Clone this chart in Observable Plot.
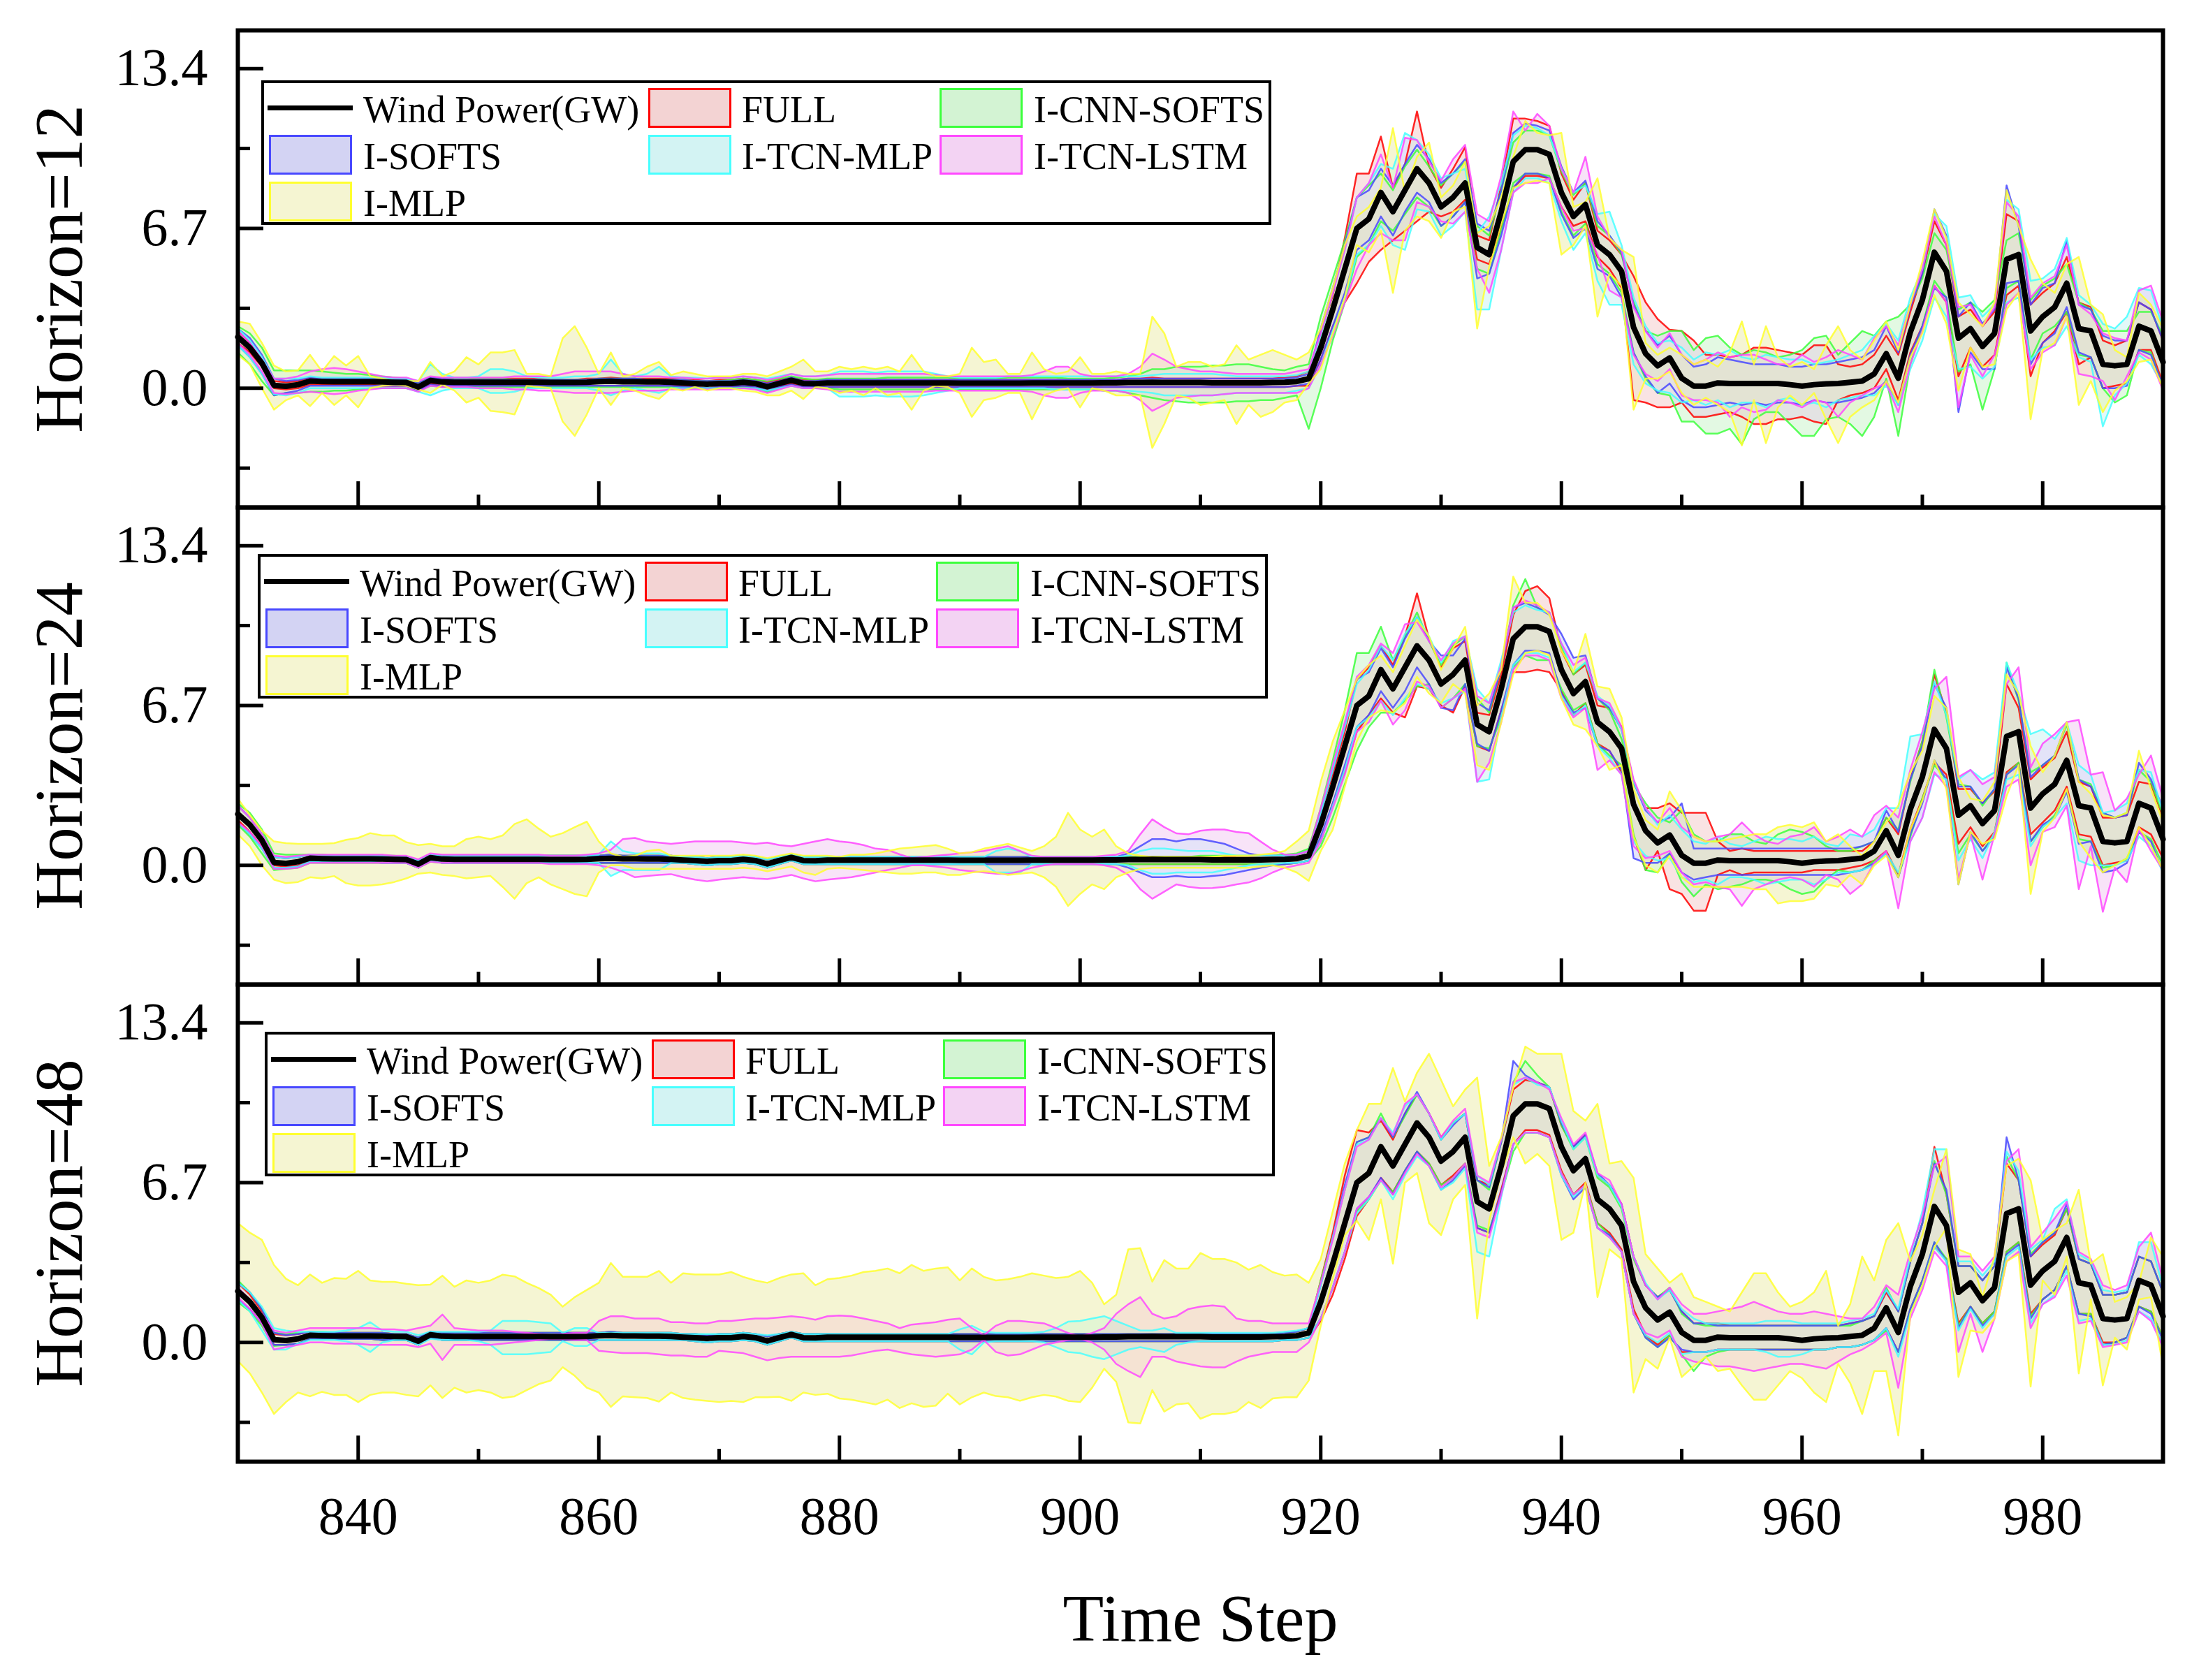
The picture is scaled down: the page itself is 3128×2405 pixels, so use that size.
<!DOCTYPE html>
<html><head><meta charset="utf-8">
<script src="https://cdn.jsdelivr.net/npm/d3@7"></script>
<script src="https://cdn.jsdelivr.net/npm/@observablehq/plot@0.6"></script>
<style>
html,body{margin:0;padding:0;background:#fff;}
#wrap{position:relative;width:3128px;height:2405px;overflow:hidden;font-family:"Liberation Serif","Times New Roman",serif;background:#fff;}
#wrap svg{position:absolute;left:0;overflow:visible;}
#wrap svg g[aria-label="area"]{mix-blend-mode:darken;}
.legend{position:absolute;border:4px solid #000;background:#fff;box-sizing:border-box;width:1446px;height:207px;z-index:5;}
.sw{position:absolute;box-sizing:border-box;width:119px;height:57px;border:3px solid;}
.ln{position:absolute;width:122px;height:7px;background:#000;}
.lt{position:absolute;font-size:54px;line-height:54px;color:#000;white-space:nowrap;}
</style></head>
<body><div id="wrap"></div>
<script>
// ---------- categories / ticks ----------
const STEP_FIRST = 830, STEP_LAST = 990;
const xMajor = [840, 860, 880, 900, 920, 940, 960, 980];
const xMinor = [850, 870, 890, 910, 930, 950, 970, 990];
const yMajor = [0, 6.7, 13.4];
const yMinor = [-3.35, 3.35, 10.05];
const horizons = ["12", "24", "48"];
const modelNames = ["FULL", "I-CNN-SOFTS", "I-SOFTS", "I-TCN-MLP", "I-TCN-LSTM", "I-MLP"];

// ---------- actual wind power (GW), steps 830..990 ----------
const actual = [
2.15,1.7,1.05,0.12,0.08,0.15,0.3,0.28,0.27,0.27,
0.27,0.27,0.26,0.25,0.24,0.05,0.32,0.26,0.25,0.25,
0.25,0.25,0.25,0.25,0.25,0.25,0.24,0.24,0.24,0.25,
0.28,0.29,0.27,0.27,0.26,0.26,0.25,0.22,0.2,0.17,
0.2,0.2,0.25,0.2,0.06,0.2,0.33,0.2,0.19,0.22,
0.22,0.22,0.22,0.22,0.22,0.22,0.22,0.22,0.22,0.22,
0.21,0.21,0.21,0.21,0.21,0.21,0.22,0.22,0.22,0.22,
0.22,0.22,0.23,0.23,0.24,0.24,0.25,0.24,0.24,0.24,
0.24,0.23,0.23,0.23,0.23,0.23,0.24,0.25,0.28,0.4,
1.7,3.3,5.0,6.7,7.1,8.2,7.4,8.3,9.2,8.6,
7.6,8.0,8.6,5.9,5.6,7.4,9.5,10.0,10.0,9.8,
8.2,7.2,7.7,6.0,5.6,4.9,2.55,1.45,0.94,1.27,
0.42,0.09,0.09,0.22,0.2,0.2,0.2,0.2,0.2,0.15,
0.09,0.15,0.18,0.2,0.25,0.3,0.6,1.45,0.42,2.35,
3.7,5.7,4.9,2.1,2.5,1.75,2.3,5.4,5.6,2.4,
3.0,3.4,4.4,2.5,2.4,1.0,0.94,1.0,2.6,2.4,
1.1];

// ================= Horizon = 12 =================
const h12_FULL_hi = [
2.4,1.9,1.2,.3,.25,.3,.45,.4,.4,.4,
.4,.4,.4,.35,.35,.2,.45,.4,.4,.4,
.4,.4,.4,.4,.4,.4,.35,.35,.35,.4,
.4,.45,.4,.4,.4,.4,.4,.35,.35,.3,
.35,.35,.4,.35,.25,.35,.45,.35,.35,.35,
.35,.35,.35,.35,.35,.35,.35,.35,.35,.35,
.35,.35,.35,.35,.35,.35,.35,.35,.35,.35,
.35,.35,.35,.35,.4,.4,.45,.4,.4,.4,
.4,.4,.4,.4,.4,.4,.4,.45,.5,.7,
2.3,3.9,6.3,9.0,9.0,10.55,8.4,9.4,11.6,9.3,
8.4,9.2,10.1,6.4,6.2,8.5,11.3,11.3,11.2,11.0,
9.0,7.9,8.6,6.6,6.2,5.6,4.7,3.6,2.9,2.45,
2.4,2.0,1.4,1.4,1.3,1.4,1.7,1.7,1.6,1.5,
1.4,1.8,1.8,1.0,.9,1.0,1.4,2.2,1.4,3.2,
4.8,7.0,6.0,3.0,3.3,2.6,3.2,7.3,7.0,3.5,
4.0,4.4,5.5,3.6,3.4,2.0,1.8,2.0,3.6,3.3,
2.0];
const h12_FULL_lo = [
1.9,1.5,.9,.0,-.05,.0,.15,.15,.15,.15,
.15,.15,.1,.1,.1,-.1,.2,.1,.1,.1,
.1,.1,.1,.1,.1,.1,.1,.1,.1,.1,
.1,.1,.1,.1,.1,.1,.1,.1,.05,.0,
.05,.05,.1,.05,-.1,.05,.2,.05,.05,.05,
.05,.05,.05,.05,.05,.05,.05,.05,.05,.05,
.05,.05,.05,.05,.05,.05,.05,.05,.05,.05,
.05,.05,.05,.05,.05,.05,.05,.05,.05,.05,
.05,.05,.05,.05,.05,.05,.05,.05,.1,.1,
1.2,2.6,3.6,4.4,5.3,5.8,6.2,6.6,7.0,7.4,
7.2,7.4,7.9,5.4,5.2,6.8,8.4,8.9,8.9,8.8,
7.6,6.8,7.0,5.5,5.0,4.2,-.5,-.6,-.8,-.8,
-.6,-1.2,-1.2,-1.1,-1.0,-1.2,-1.5,-1.5,-1.3,-1.3,
-1.2,-1.4,-1.5,-.5,-.3,-.2,.0,.8,-.5,1.5,
2.6,4.3,3.6,.5,1.7,.9,1.4,3.9,4.3,.5,
1.9,2.4,3.2,1.0,1.3,.0,.1,.2,1.6,1.6,
.2];
const h12_CNN_hi = [
2.6,2.3,1.7,.75,.75,.75,.75,.7,.65,.6,
.6,.55,.5,.45,.4,.2,.45,.4,.4,.4,
.4,.4,.4,.35,.35,.35,.35,.35,.35,.35,
.4,.4,.4,.4,.35,.35,.35,.35,.3,.3,
.3,.35,.4,.35,.3,.4,.5,.4,.35,.4,
.4,.4,.4,.4,.45,.45,.45,.45,.45,.45,
.4,.4,.4,.4,.45,.45,.45,.45,.45,.4,
.4,.4,.4,.45,.5,.6,.8,.8,.9,.9,
.9,.95,.95,1.0,1.0,.9,.8,.75,.9,1.0,
3.0,4.6,6.2,8.0,8.5,9.0,8.3,9.3,10.0,9.3,
8.5,9.0,9.5,6.8,6.4,8.3,10.3,10.8,10.8,10.6,
9.1,8.1,8.6,6.8,6.4,5.6,3.6,2.4,2.2,2.4,
2.4,1.6,2.1,2.2,1.7,1.4,1.6,1.5,1.3,1.4,
1.6,2.1,2.2,1.4,1.9,2.4,2.2,2.8,3.0,3.5,
4.6,6.5,5.8,3.3,3.6,3.2,3.7,6.2,6.5,3.7,
4.3,4.6,5.2,3.6,3.3,2.4,2.4,2.4,3.2,3.2,
2.2];
const h12_CNN_lo = [
1.5,1.0,.3,-.3,-.2,-.2,-.15,-.15,-.1,-.1,
-.05,.0,.0,.0,.0,-.1,.1,.05,.05,.05,
.05,.05,.05,.05,.05,.05,.05,.05,.05,.05,
.05,.05,.05,.05,.05,.05,.05,.05,.0,.0,
.0,.0,.05,.0,-.15,.0,.1,.0,.0,.0,
-.05,-.05,-.05,-.05,-.05,-.05,-.05,-.05,-.05,-.05,
-.05,-.05,-.05,-.05,-.05,-.05,-.05,-.05,-.05,-.05,
-.05,-.05,-.1,-.1,-.2,-.3,-.4,-.5,-.55,-.6,
-.6,-.6,-.6,-.55,-.55,-.5,-.5,-.4,-.3,-1.7,
.0,2.0,3.6,5.5,6.0,7.0,6.6,7.3,8.0,7.6,
6.8,7.2,7.8,5.0,4.8,6.6,8.6,9.0,9.0,8.9,
7.4,6.4,6.9,5.2,4.8,4.0,1.5,.4,-.2,-.3,
-1.4,-1.4,-1.9,-1.9,-1.7,-2.35,-1.3,-1.0,-1.0,-1.5,
-2.0,-2.0,-1.3,-1.2,-1.5,-2.0,-1.2,.4,-2.0,1.0,
2.6,4.5,3.8,.7,1.0,-.9,.8,4.2,4.5,1.2,
2.3,2.6,3.2,1.4,1.3,.0,-.6,-.3,1.6,1.5,
.0];
const h12_SOFTS_hi = [
2.5,2.1,1.4,.4,.3,.35,.45,.4,.4,.4,
.4,.4,.4,.35,.35,.2,.45,.4,.35,.35,
.35,.35,.35,.35,.35,.35,.35,.35,.35,.35,
.4,.4,.4,.4,.35,.35,.35,.35,.3,.3,
.3,.3,.35,.3,.2,.3,.45,.3,.3,.35,
.35,.35,.35,.35,.35,.35,.35,.35,.35,.35,
.35,.35,.35,.35,.35,.35,.35,.35,.35,.35,
.35,.35,.35,.35,.4,.4,.4,.4,.4,.4,
.4,.4,.4,.4,.4,.4,.4,.4,.45,.6,
2.5,4.2,6.0,8.0,8.3,9.2,8.5,9.4,10.2,9.6,
8.6,9.0,9.6,6.9,6.6,8.3,10.7,11.1,11.0,10.8,
9.3,8.2,8.7,7.0,6.4,5.7,3.5,2.4,1.8,2.2,
1.4,.9,1.0,1.3,1.2,1.1,1.0,1.0,1.0,.9,
.9,1.0,1.0,1.1,1.2,1.3,1.6,2.6,1.5,3.4,
4.8,7.5,6.4,3.0,3.6,2.7,3.3,8.5,6.8,3.5,
4.2,4.4,6.2,3.5,3.3,2.2,2.0,2.0,3.6,3.3,
2.0];
const h12_SOFTS_lo = [
1.8,1.3,.6,-.3,-.2,-.1,.1,.1,.1,.1,
.1,.1,.1,.1,.1,-.1,.15,.1,.1,.1,
.1,.1,.1,.1,.1,.1,.1,.1,.1,.1,
.1,.1,.1,.1,.1,.1,.1,.05,.05,.0,
.05,.05,.1,.05,-.1,.05,.15,.05,.05,.05,
.05,.05,.05,.05,.05,.05,.05,.05,.05,.05,
.05,.05,.05,.05,.05,.05,.05,.05,.05,.05,
.05,.05,.05,.05,.05,.05,.05,.05,.05,.05,
.05,.05,.05,.05,.05,.05,.05,.05,.1,.2,
1.2,2.6,4.0,5.8,6.2,7.2,6.4,7.4,8.2,7.8,
6.8,7.2,7.8,4.6,4.8,6.4,8.4,9.0,9.0,8.8,
7.3,6.3,6.7,5.0,4.7,3.8,1.5,.5,-.2,.2,
-.5,-.8,-.8,-.7,-.6,-.7,-.6,-.7,-.6,-.6,
-.7,-.5,-.6,-.6,-.5,-.4,-.2,.3,-.7,1.4,
2.6,4.2,3.8,-1.0,1.5,.8,.8,4.4,4.5,1.0,
1.9,2.3,3.4,1.5,1.3,.0,.0,.1,1.6,1.4,
.1];
const h12_TCNMLP_hi = [
2.5,2.0,1.3,.4,.4,.4,.5,.45,.45,.45,
.45,.45,.45,.4,.4,.3,1.0,.6,.45,.45,
.5,.8,.8,.7,.5,.45,.45,.45,.5,.5,
.6,1.2,.6,.5,.6,.9,.5,.45,.45,.4,
.45,.45,.5,.45,.4,.5,.6,.5,.5,.55,
.7,.7,.7,.65,.7,.7,.7,.7,.6,.5,
.45,.45,.45,.45,.5,.5,.5,.5,.5,.5,
.5,.5,.5,.5,.5,.5,.55,.6,.6,.6,
.6,.6,.55,.5,.5,.5,.5,.5,.55,.7,
2.2,4.0,5.8,8.0,8.6,9.4,9.2,10.7,10.4,9.8,
8.8,9.0,9.2,6.5,7.2,8.6,10.6,11.0,10.9,10.6,
9.2,8.2,8.5,7.3,7.4,6.0,3.8,2.6,1.9,2.0,
1.7,1.2,1.5,1.4,1.6,1.3,1.2,1.4,1.3,1.2,
1.2,1.0,1.1,1.2,1.4,1.6,2.2,2.7,2.0,3.8,
5.0,7.3,6.8,3.8,3.9,3.0,3.5,7.9,7.5,4.5,
4.6,5.0,6.3,3.9,3.5,2.7,2.5,3.0,4.2,4.1,
2.5];
const h12_TCNMLP_lo = [
1.8,1.3,.6,-.25,-.3,-.2,.0,.0,.0,.0,
.0,.0,.0,.0,.0,-.15,-.3,-.1,.0,.0,
.0,-.2,-.2,-.15,.0,.0,.0,.0,.0,.0,
-.1,-.3,-.1,.0,-.1,-.2,.0,.0,.0,.0,
.0,.0,.0,.0,-.1,.0,.1,.0,.0,.0,
-.35,-.35,-.35,-.3,-.35,-.35,-.35,-.3,-.2,-.1,
.0,.0,.0,.0,.0,.0,.0,.0,-.05,-.05,
-.05,-.05,-.1,-.1,-.1,-.15,-.2,-.3,-.3,-.3,
-.3,-.3,-.25,-.2,-.2,-.2,-.2,-.2,-.1,.0,
1.0,2.4,3.8,5.6,6.0,6.8,6.0,5.8,7.5,7.4,
6.4,6.8,7.4,3.3,3.3,5.8,8.2,8.8,8.8,8.6,
7.0,5.8,6.5,4.5,3.5,3.5,1.0,.2,-.1,-.2,
-.6,-.5,-.7,-.5,-.8,-.6,-.6,-.8,-.5,-.4,
-.7,-.6,-.8,-.5,-.4,-.3,-.3,.1,-.7,.8,
2.0,3.8,3.0,.8,.9,.4,.9,3.6,3.8,1.2,
1.7,1.8,2.6,1.3,1.1,-1.6,-.3,.2,1.4,1.0,
.1];
const h12_LSTM_hi = [
2.4,1.9,1.2,.4,.4,.5,.7,.8,.85,.8,
.7,.6,.5,.45,.45,.3,.5,.45,.45,.45,
.45,.45,.45,.5,.5,.5,.5,.6,.7,.7,
.7,.7,.6,.5,.5,.5,.45,.45,.4,.4,
.45,.45,.5,.45,.35,.45,.6,.5,.5,.55,
.6,.6,.6,.6,.6,.6,.6,.6,.55,.5,
.5,.5,.5,.5,.5,.5,.55,.7,.9,.9,
.6,.5,.5,.5,.6,.9,1.45,1.2,.9,.8,
.7,.7,.65,.6,.6,.6,.6,.6,.7,.8,
2.3,4.0,5.8,8.0,8.6,9.8,8.4,10.5,10.4,9.5,
8.7,9.6,10.2,7.3,7.0,8.9,11.6,10.8,11.5,11.0,
9.2,8.2,9.7,7.2,6.3,5.8,3.4,2.4,1.7,2.3,
1.4,1.0,1.2,1.5,1.3,1.4,1.4,1.2,1.0,1.0,
1.4,1.1,1.3,1.6,1.4,1.2,2.1,2.6,1.8,3.5,
5.0,7.2,6.0,3.4,3.5,2.6,3.4,7.8,7.2,3.8,
4.4,4.7,6.0,3.5,3.1,2.3,2.1,2.0,4.1,4.3,
2.8];
const h12_LSTM_lo = [
1.9,1.4,.7,-.2,-.25,-.2,-.15,-.2,-.25,-.2,
-.1,-.05,.0,.0,.0,-.15,.1,.05,.05,.05,
.0,.0,.0,-.05,-.05,-.1,-.1,-.15,-.2,-.2,
-.2,-.2,-.15,-.1,-.1,-.1,-.05,-.05,-.05,-.05,
-.05,-.05,.0,-.05,-.2,-.05,.1,.0,.0,-.05,
-.15,-.15,-.15,-.15,-.15,-.15,-.15,-.15,-.1,-.1,
-.1,-.1,-.1,-.1,-.1,-.1,-.15,-.3,-.4,-.4,
-.2,-.1,-.1,-.1,-.2,-.5,-.95,-.7,-.4,-.35,
-.3,-.3,-.25,-.2,-.2,-.2,-.2,-.2,-.2,.0,
1.0,2.2,3.6,5.0,6.0,6.5,6.2,6.2,7.8,7.6,
7.0,6.9,7.4,5.0,4.0,5.8,8.2,8.6,8.6,8.8,
7.6,6.6,6.7,5.6,4.1,3.8,1.4,.6,.3,.8,
-.3,-.5,-.5,-.6,-1.2,-.8,-1.0,-.9,-.5,-.6,
-.8,-.5,-.6,-1.2,-.6,-.3,.0,.2,-1.0,1.0,
2.4,4.3,3.6,-.8,1.4,.5,1.4,3.5,4.0,.8,
1.5,1.8,3.0,.6,.5,.3,-.5,.5,1.5,1.2,
-.1];
const h12_MLP_hi = [
2.8,2.7,1.9,.95,.7,.75,1.4,.7,1.35,.95,
1.35,.5,.4,.3,.3,.3,1.1,.5,.7,1.3,
1.0,1.5,1.5,1.6,.6,.6,.5,2.1,2.6,1.7,
.6,1.5,.5,.6,.9,1.1,.55,.7,.6,.5,
.5,.5,.6,.6,.5,.7,.9,1.2,.7,.7,
.9,.8,.9,.8,.9,.7,1.4,.7,.5,.5,
.6,1.7,1.1,1.2,.6,.6,1.5,.8,.6,.7,
1.3,.6,.6,.7,.6,.6,3.0,2.3,.9,1.1,
1.1,.9,1.0,1.8,1.2,1.4,1.6,1.4,1.2,1.5,
2.5,4.2,6.0,7.2,7.6,8.4,10.9,8.2,9.7,10.3,
8.0,8.5,9.5,6.5,6.8,8.0,9.7,11.2,10.7,10.6,
10.7,7.6,7.8,8.8,6.3,5.8,5.5,1.9,1.4,1.7,
1.4,1.0,1.2,.9,1.5,2.8,1.0,2.6,1.3,.9,
1.1,.8,1.8,2.6,1.6,1.2,2.0,2.8,1.6,3.5,
5.3,7.5,6.3,3.6,3.1,2.6,3.6,8.3,6.8,5.4,
4.4,4.0,5.2,5.5,3.5,3.1,1.6,1.3,4.0,3.5,
2.5];
const h12_MLP_lo = [
1.4,1.0,.0,-.9,-.5,-.3,-.75,-.2,-.7,-.3,
-.8,.0,.1,.15,.1,-.05,-.2,.15,-.1,-.6,
-.4,-.95,-1.0,-1.1,.1,.05,.0,-1.4,-2.0,-1.1,
.0,-.7,.0,-.1,-.3,-.45,.0,-.1,.05,-.1,
.0,.0,-.1,-.15,-.3,-.3,-.1,-.45,.05,.0,
-.2,-.1,-.3,.0,-.3,-.2,-.9,-.1,.1,.05,
-.2,-1.2,-.5,-.4,-.2,-.2,-1.3,-.3,-.1,.0,
-.8,.0,-.1,-.3,-.3,-.3,-2.5,-1.5,-.3,-.4,
-.7,-.6,-.5,-1.5,-.7,-1.2,-1.0,-.6,-.5,.2,
.8,2.3,3.8,6.0,5.7,6.6,4.0,6.6,7.2,7.0,
6.3,7.4,7.6,2.5,5.1,6.9,8.4,8.6,8.7,8.6,
5.6,6.0,6.8,3.0,4.8,4.3,-.9,.4,.4,.7,
-.2,-.7,-.4,-.7,-1.0,-2.4,-.5,-2.3,-.8,-.3,
-.7,-.2,-1.3,-2.3,-1.2,-.8,-.5,.3,-.6,1.3,
2.3,3.9,2.7,-.1,1.7,.9,1.0,3.3,4.0,-1.3,
1.6,1.9,3.0,-.7,.3,-1.0,-.1,.3,1.1,1.2,
.0];

// ================= Horizon = 24 =================
const h24_FULL_hi = [
2.5,2.0,1.3,.35,.3,.35,.45,.4,.4,.4,
.4,.4,.4,.35,.35,.2,.45,.4,.4,.4,
.4,.4,.4,.4,.4,.4,.4,.4,.4,.4,
.4,.45,.4,.4,.4,.4,.4,.35,.35,.3,
.35,.35,.4,.35,.25,.35,.45,.35,.35,.35,
.35,.35,.35,.35,.35,.35,.35,.35,.35,.35,
.35,.35,.35,.35,.35,.35,.35,.35,.35,.35,
.35,.35,.35,.35,.35,.35,.35,.35,.35,.35,
.35,.35,.35,.35,.35,.35,.35,.4,.45,.6,
2.3,3.8,5.6,7.8,8.3,9.2,8.4,9.6,11.4,9.5,
8.3,9.1,9.4,6.4,6.3,8.0,10.5,11.5,11.7,11.2,
9.0,8.0,8.4,6.7,6.6,5.8,3.5,2.4,2.4,2.6,
2.2,2.2,2.2,1.0,.6,.7,.6,.6,.6,.6,
.6,.6,.6,.6,.6,.6,1.0,2.0,1.3,3.6,
5.2,8.0,6.4,3.2,3.2,2.6,3.1,7.6,6.6,3.6,
4.1,4.5,5.6,3.5,3.3,2.0,2.0,2.1,3.5,3.4,
2.0];
const h24_FULL_lo = [
1.9,1.4,.8,.0,-.05,.0,.15,.15,.15,.15,
.15,.15,.1,.1,.1,-.1,.2,.1,.1,.1,
.1,.1,.1,.1,.1,.1,.1,.1,.1,.1,
.1,.1,.1,.1,.1,.1,.1,.1,.05,.0,
.05,.05,.1,.05,-.1,.05,.2,.05,.05,.05,
.05,.05,.05,.05,.05,.05,.05,.05,.05,.05,
.05,.05,.05,.05,.05,.05,.05,.05,.05,.05,
.05,.05,.05,.05,.05,.05,.05,.05,.05,.05,
.05,.05,.05,.05,.05,.05,.05,.05,.1,.2,
1.0,2.6,3.9,5.6,6.3,7.0,6.4,6.2,7.5,7.4,
6.7,6.4,7.5,5.0,4.8,6.5,8.1,8.1,8.2,8.1,
7.3,6.3,6.8,5.1,4.8,3.9,1.2,-.2,.6,-1.0,
-1.2,-1.9,-1.9,-.4,-.2,-.4,-.3,-.3,-.3,-.3,
-.3,-.2,-.2,-.2,-.1,.0,.2,.6,-.4,1.5,
2.8,4.3,3.8,.9,1.6,.8,1.4,3.9,4.3,1.3,
1.8,2.3,3.3,1.3,1.2,.0,.1,.2,1.6,1.3,
.3];
const h24_CNN_hi = [
2.6,2.2,1.5,.5,.45,.45,.45,.45,.4,.4,
.4,.4,.4,.4,.35,.2,.45,.4,.4,.4,
.4,.4,.4,.4,.4,.4,.4,.4,.4,.4,
.4,.45,.4,.4,.4,.4,.4,.35,.35,.3,
.35,.35,.4,.35,.25,.35,.45,.35,.35,.35,
.35,.35,.35,.35,.35,.35,.35,.35,.35,.35,
.35,.35,.35,.35,.35,.35,.35,.35,.35,.35,
.35,.35,.35,.35,.35,.35,.35,.35,.35,.35,
.4,.4,.4,.4,.4,.4,.4,.45,.5,.7,
2.4,4.4,6.5,8.9,8.9,10.0,8.6,9.6,10.6,9.4,
8.4,9.2,9.6,7.0,6.4,8.3,10.9,12.0,10.8,10.6,
9.2,8.0,8.5,7.0,6.5,5.3,3.4,2.6,2.0,1.8,
2.3,1.3,1.0,1.0,1.3,1.3,1.0,.9,1.3,1.5,
1.4,1.2,.8,.6,.6,.8,1.0,2.0,1.5,3.5,
5.2,8.2,6.2,3.4,3.3,2.5,3.2,8.5,6.9,3.9,
4.2,4.6,5.9,3.6,3.4,2.2,2.0,2.2,4.0,3.5,
2.1];
const h24_CNN_lo = [
1.7,1.2,.5,-.2,-.15,-.1,.1,.1,.1,.1,
.1,.1,.1,.1,.1,-.1,.15,.1,.1,.1,
.1,.1,.1,.1,.1,.1,.1,.1,.1,.1,
.1,.1,.1,.1,.1,.1,.1,.1,.05,.0,
.05,.05,.1,.05,-.1,.05,.2,.05,.05,.05,
.05,.05,.05,.05,.05,.05,.05,.05,.05,.05,
.05,.05,.05,.05,.05,.05,.05,.05,.05,.05,
.05,.05,.05,.05,.05,.05,.05,.05,.05,.05,
.05,.05,.05,.05,.05,.05,.05,.05,.1,.2,
.8,2.0,3.4,4.8,5.8,6.4,6.4,6.9,7.5,7.6,
6.6,7.0,7.6,5.0,4.9,6.2,8.3,8.8,8.6,8.6,
7.4,6.5,6.8,5.1,4.6,4.2,1.3,-.2,-.3,.5,
-.7,-1.3,-.8,-1.0,-.9,-.8,-.6,-.6,-.7,-1.0,
-1.2,-1.1,-.6,-.2,-.3,-.2,.2,.5,-.5,1.2,
2.8,4.2,3.6,.5,1.3,.6,1.3,3.8,4.3,1.0,
1.6,2.1,3.1,1.1,1.0,-.1,.0,.3,1.4,1.1,
.0];
const h24_SOFTS_hi = [
2.5,2.0,1.3,.35,.3,.35,.45,.4,.4,.4,
.4,.4,.4,.35,.35,.2,.45,.4,.4,.4,
.4,.4,.4,.4,.4,.4,.4,.4,.4,.4,
.4,.45,.4,.4,.4,.4,.4,.35,.35,.3,
.35,.35,.4,.35,.25,.35,.45,.35,.35,.35,
.35,.35,.35,.35,.35,.35,.35,.35,.35,.35,
.35,.35,.35,.35,.35,.35,.35,.35,.35,.35,
.35,.35,.35,.35,.5,.8,1.1,1.1,1.0,1.1,
1.1,1.0,.9,.7,.5,.4,.4,.4,.45,.6,
2.2,4.0,5.8,7.8,8.1,9.1,8.3,9.5,10.4,9.4,
8.8,8.8,9.5,6.8,6.5,8.3,10.8,11.0,10.8,10.5,
9.7,8.7,8.8,7.0,6.6,5.7,3.5,2.3,1.8,2.0,
2.6,.7,.7,.7,.7,.7,.7,.7,.7,.7,
.7,.7,.7,.7,.7,.8,1.0,2.3,1.4,3.6,
5.0,7.6,6.6,3.3,3.3,2.6,3.2,8.3,7.0,3.7,
4.2,4.6,6.0,3.6,3.3,2.2,2.0,2.1,4.3,3.6,
2.4];
const h24_SOFTS_lo = [
1.8,1.3,.7,-.1,-.1,-.05,.15,.15,.15,.15,
.15,.15,.1,.1,.1,-.1,.2,.1,.1,.1,
.1,.1,.1,.1,.1,.1,.1,.1,.1,.1,
.1,.1,.1,.1,.1,.1,.1,.1,.05,.0,
.05,.05,.1,.05,-.1,.05,.2,.05,.05,.05,
.05,.05,.05,.05,.05,.05,.05,.05,.05,.05,
.05,.05,.05,.05,.05,.05,.05,.05,.05,.05,
.05,.05,.05,.05,-.1,-.3,-.5,-.5,-.45,-.5,
-.5,-.45,-.4,-.3,-.2,-.1,.0,.05,.1,.2,
1.2,2.6,4.2,5.8,6.3,7.3,6.6,7.3,8.3,7.6,
6.6,6.5,7.6,5.1,4.8,6.5,8.4,9.0,9.0,8.9,
7.2,6.4,6.6,5.0,4.8,4.0,.3,.1,.1,.5,
-.3,-.6,-.5,-.4,-.4,-.4,-.4,-.4,-.4,-.4,
-.4,-.4,-.4,-.4,-.3,-.2,.1,.5,-.5,1.3,
2.6,4.4,3.6,-.8,1.4,.6,1.2,3.8,4.2,1.0,
1.7,2.0,3.1,.9,1.0,-.3,-.2,.1,1.4,1.0,
-.3];
const h24_TCNMLP_hi = [
2.5,2.0,1.3,.35,.3,.35,.45,.4,.4,.4,
.4,.4,.4,.35,.35,.2,.45,.4,.4,.4,
.4,.4,.4,.4,.4,.4,.4,.4,.4,.4,
.45,1.0,.6,.5,.5,.5,.4,.35,.35,.3,
.35,.35,.4,.35,.25,.35,.45,.35,.35,.35,
.35,.35,.35,.35,.35,.35,.35,.35,.35,.35,
.35,.35,.35,.6,.7,.6,.35,.35,.35,.35,
.35,.35,.35,.35,.4,.6,.7,.7,.65,.6,
.6,.6,.5,.4,.4,.4,.4,.4,.45,.6,
2.2,4.0,5.8,7.6,8.2,9.2,8.6,9.7,10.4,9.6,
8.5,9.4,9.6,7.4,6.8,8.6,10.6,10.9,10.7,10.6,
9.3,8.1,8.5,7.1,6.7,5.7,3.5,2.4,1.7,2.1,
1.5,1.0,.9,1.2,.9,.8,1.0,1.2,1.1,1.1,
1.0,1.2,.9,.8,1.3,1.2,1.5,2.4,2.4,5.4,
5.5,7.7,6.3,3.6,4.0,3.6,3.9,8.5,7.2,5.5,
5.7,5.3,6.0,4.2,3.8,2.2,2.3,2.6,4.0,3.9,
2.2];
const h24_TCNMLP_lo = [
1.8,1.3,.7,-.1,-.1,-.05,.15,.15,.15,.15,
.15,.15,.1,.1,.1,-.1,.2,.1,.1,.1,
.1,.1,.1,.1,.1,.1,.1,.1,.1,.1,
.1,-.45,-.2,-.2,-.2,-.2,.1,.1,.05,.0,
.05,.05,.1,.05,-.1,.05,.2,.05,.05,.05,
.05,.05,.05,.05,.05,.05,.05,.05,.05,.05,
.05,.05,.05,-.3,-.3,-.3,.05,.05,.05,.05,
.05,.05,.05,.05,.0,-.2,-.35,-.35,-.3,-.3,
-.3,-.3,-.2,-.1,.0,.05,.05,.1,.1,.2,
1.0,2.5,4.0,5.8,6.2,6.9,6.3,7.0,7.6,7.4,
6.8,7.0,7.3,3.5,3.6,6.2,8.4,8.9,8.9,8.7,
7.1,6.3,6.7,5.0,4.5,3.8,1.0,.4,.2,.3,
-.5,-.7,-.6,-.8,-.5,-.5,-.6,-.8,-.7,-.6,
-.6,-.8,-.6,-.3,-.3,-.2,.0,.5,-.3,1.0,
2.0,3.8,3.6,.2,1.1,.3,1.4,3.6,3.8,.8,
1.6,2.0,2.6,.2,.0,.0,.0,.2,1.2,.8,
-.3];
const h24_LSTM_hi = [
2.5,2.0,1.3,.4,.35,.4,.45,.45,.45,.45,
.45,.45,.45,.4,.4,.25,.5,.45,.45,.45,
.45,.45,.45,.45,.45,.45,.4,.4,.4,.45,
.5,.65,1.1,1.15,1.0,.95,.9,.95,1.0,1.0,
1.0,1.0,.95,.9,.95,.85,.8,.9,1.0,1.1,
1.0,.95,.85,.7,.65,.46,.3,.35,.4,.45,
.5,.55,.6,.7,.8,.6,.4,.35,.35,.35,
.35,.35,.4,.45,.6,1.3,1.93,1.6,1.34,1.3,
1.45,1.5,1.5,1.4,1.35,1.0,.66,.45,.45,.6,
2.4,4.2,6.0,7.9,8.4,9.3,8.9,10.1,10.2,9.4,
8.6,9.3,9.6,7.1,6.8,8.4,10.8,11.1,10.9,10.6,
9.3,8.4,8.7,7.0,6.8,5.8,3.6,2.4,1.8,2.4,
1.6,1.2,1.0,1.2,1.3,1.8,1.3,1.0,.9,1.2,
1.3,1.6,1.0,1.2,1.5,1.2,2.1,2.5,2.0,4.0,
5.6,7.4,7.9,3.7,4.0,3.4,3.7,7.6,8.3,4.1,
5.1,5.5,6.0,6.1,3.8,3.9,2.3,2.8,3.8,4.6,
2.8];
const h24_LSTM_lo = [
1.8,1.4,.8,-.15,-.15,-.1,.1,.1,.1,.1,
.1,.1,.1,.1,.1,-.1,.15,.1,.1,.1,
.1,.1,.1,.1,.1,.1,.05,.05,.05,.05,
.0,-.1,-.27,-.5,-.45,-.4,-.37,-.5,-.6,-.67,
-.6,-.55,-.5,-.55,-.58,-.5,-.4,-.55,-.67,-.6,
-.55,-.5,-.4,-.3,-.2,-.1,.0,.0,-.05,-.1,
-.2,-.25,-.3,-.35,-.37,-.25,-.1,.0,.05,.05,
.05,.05,.0,-.1,-.4,-1.0,-1.4,-1.1,-.8,-.9,
-.96,-.95,-.9,-.8,-.72,-.55,-.3,-.1,.0,.1,
1.0,2.4,3.8,5.6,6.0,6.9,5.9,6.5,7.7,7.5,
6.6,7.0,7.4,3.5,4.3,6.0,8.2,8.8,8.8,8.6,
7.0,6.2,6.6,4.0,4.4,3.8,.8,.3,.4,.6,
-.3,-.8,-.7,-.9,-1.0,-1.7,-1.0,-.8,-.6,-.5,
-.6,-.9,-.4,-.6,-1.2,-.8,.1,.6,-1.8,1.0,
2.0,3.9,3.3,-.6,1.3,-.6,1.3,3.3,3.6,.0,
1.4,1.6,2.5,-1.0,.8,-1.95,-.1,-.7,1.5,.6,
-.2];
const h24_MLP_hi = [
2.8,2.1,1.45,1.0,.93,.9,.9,.9,.93,1.07,
1.15,1.35,1.25,1.25,.97,.85,.9,.8,.8,1.1,
1.2,1.1,1.25,1.73,1.93,1.54,1.2,1.35,1.6,1.83,
1.0,.5,.36,.4,.6,.66,.4,.4,.4,.4,
.4,.4,.45,.4,.3,.4,.5,.4,.4,.4,
.35,.45,.45,.5,.6,.7,.75,.8,.85,.7,
.5,.55,.7,.8,.9,.75,.6,.8,1.2,2.2,
1.5,1.2,1.5,.8,.5,.4,.35,.35,.35,.35,
.35,.35,.4,.4,.4,.45,.5,.6,1.0,1.45,
3.5,5.2,6.5,7.8,8.4,8.8,8.1,9.2,10.3,9.6,
8.2,9.1,10.0,6.7,7.2,8.2,12.1,11.0,11.0,10.5,
9.0,8.1,9.7,7.5,7.4,6.2,3.2,1.9,1.5,3.1,
2.3,1.2,1.0,1.0,1.1,1.2,1.3,1.3,1.6,1.7,
1.6,1.8,1.0,1.3,.8,.4,1.0,1.8,2.5,3.9,
4.8,7.1,6.6,3.7,2.8,2.7,3.5,8.0,7.2,5.0,
3.9,4.6,6.0,3.5,3.0,2.1,2.0,2.2,4.8,3.2,
1.8];
const h24_MLP_lo = [
1.3,.8,.0,-.6,-.75,-.7,-.5,-.55,-.45,-.75,
-.85,-.85,-.8,-.7,-.55,-.35,-.3,-.4,-.45,-.55,
-.5,-.45,-.9,-1.4,-.75,-.5,-.8,-1.0,-1.2,-1.3,
-.3,.0,.0,-.15,-.15,-.15,-.15,-.15,-.15,-.15,
-.15,-.15,-.1,-.15,-.25,-.15,-.05,-.3,-.4,-.15,
-.1,-.15,-.2,-.25,-.3,-.35,-.35,-.3,-.3,-.4,
-.4,-.3,-.25,-.3,-.4,-.35,-.3,-.5,-.9,-1.7,
-1.2,-.8,-1.0,-.5,-.3,-.15,-.1,-.1,-.1,-.1,
-.1,-.1,-.1,-.1,-.1,-.05,.0,-.1,-.3,-.65,
.6,1.5,3.3,5.2,6.2,6.5,6.4,6.8,7.9,7.2,
6.8,7.6,7.2,4.2,4.0,6.0,8.0,8.9,9.0,8.8,
7.0,5.9,5.7,5.0,4.0,4.2,1.2,.0,-.3,.4,
-.5,-.9,-.9,-.9,-.9,-.9,-1.0,-1.0,-1.6,-1.5,
-1.5,-1.4,-.8,-.9,-.4,-.8,.0,.4,-.5,1.5,
2.7,4.4,3.2,-.8,1.4,.9,1.1,2.9,4.2,-1.2,
1.4,2.0,3.2,1.0,.3,-.3,.0,.3,1.6,.8,
-.2];

// ================= Horizon = 48 =================
const h48_FULL_hi = [
2.5,2.0,1.3,.35,.3,.35,.45,.4,.4,.4,
.4,.4,.4,.35,.35,.2,.45,.4,.4,.4,
.4,.4,.4,.4,.4,.4,.4,.4,.4,.4,
.4,.45,.4,.4,.4,.4,.4,.35,.35,.3,
.35,.35,.4,.35,.25,.35,.45,.35,.35,.35,
.35,.35,.35,.35,.35,.35,.35,.35,.35,.35,
.35,.35,.35,.35,.35,.35,.35,.35,.35,.35,
.35,.35,.35,.35,.35,.35,.35,.35,.35,.35,
.35,.35,.35,.35,.35,.35,.35,.4,.45,.6,
2.6,4.6,7.0,8.9,8.8,9.3,8.5,9.6,10.4,9.6,
8.6,9.2,9.6,6.8,6.6,8.4,10.6,11.0,10.9,10.7,
9.1,8.2,8.7,7.0,6.6,5.8,3.6,2.4,1.9,2.2,
1.3,.8,.8,.8,.7,.7,.7,.7,.7,.7,
.7,.7,.7,.7,.8,.9,1.1,2.1,1.3,3.4,
5.0,8.2,6.2,3.2,3.2,2.6,3.2,7.5,6.8,3.6,
4.1,4.5,5.6,3.5,3.3,2.0,2.0,2.1,3.6,3.4,
2.1];
const h48_FULL_lo = [
1.8,1.4,.8,-.1,-.1,-.05,.15,.15,.15,.15,
.15,.15,.1,.1,.1,-.1,.2,.1,.1,.1,
.1,.1,.1,.1,.1,.1,.1,.1,.1,.1,
.1,.1,.1,.1,.1,.1,.1,.1,.05,.0,
.05,.05,.1,.05,-.1,.05,.2,.05,.05,.05,
.05,.05,.05,.05,.05,.05,.05,.05,.05,.05,
.05,.05,.05,.05,.05,.05,.05,.05,.05,.05,
.05,.05,.05,.05,.05,.05,.05,.05,.05,.05,
.05,.05,.05,.05,.05,.05,.05,.1,.1,.2,
.9,2.0,3.5,5.3,6.0,6.9,6.3,7.2,8.0,7.5,
6.6,7.0,7.5,4.8,4.6,6.4,8.3,8.9,8.9,8.7,
7.2,6.2,6.7,5.0,4.6,3.9,1.4,.3,-.1,.3,
-.4,-.4,-.4,-.3,-.3,-.3,-.3,-.3,-.3,-.3,
-.3,-.3,-.3,-.2,-.2,-.1,.1,.6,-.4,1.4,
2.6,4.0,3.5,.8,1.5,.8,1.3,3.8,4.2,1.2,
1.8,2.2,3.2,1.2,1.2,.0,.0,.2,1.5,1.3,
.2];
const h48_CNN_hi = [
2.6,2.1,1.4,.4,.35,.4,.45,.45,.4,.4,
.4,.4,.4,.35,.35,.2,.45,.4,.4,.4,
.4,.4,.4,.4,.4,.4,.4,.4,.4,.4,
.4,.45,.4,.4,.4,.4,.4,.35,.35,.3,
.35,.35,.4,.35,.25,.35,.45,.35,.35,.35,
.35,.35,.35,.35,.35,.35,.35,.35,.35,.35,
.35,.35,.35,.35,.35,.35,.35,.35,.35,.35,
.35,.35,.35,.35,.35,.35,.35,.35,.35,.35,
.35,.35,.35,.35,.35,.35,.35,.4,.45,.6,
2.6,4.4,6.4,8.4,8.6,9.6,8.6,9.5,10.4,9.6,
8.5,9.2,9.6,6.8,6.4,8.4,10.9,11.8,11.2,10.7,
9.1,8.1,8.6,6.9,6.5,5.6,3.5,2.4,1.9,2.3,
1.2,.8,.7,.7,.7,.7,.7,.7,.7,.7,
.7,.7,.7,.7,.7,.9,1.1,2.3,1.3,3.4,
5.0,7.6,6.2,3.2,3.2,2.6,3.2,7.8,6.8,3.7,
4.2,4.6,5.6,3.5,3.3,2.0,2.0,2.1,3.6,3.4,
2.1];
const h48_CNN_lo = [
1.7,1.3,.7,-.15,-.1,-.05,.15,.15,.15,.15,
.15,.15,.1,.1,.1,-.1,.2,.1,.1,.1,
.1,.1,.1,.1,.1,.1,.1,.1,.1,.1,
.1,.1,.1,.1,.1,.1,.1,.1,.05,.0,
.05,.05,.1,.05,-.1,.05,.2,.05,.05,.05,
.05,.05,.05,.05,.05,.05,.05,.05,.05,.05,
.05,.05,.05,.05,.05,.05,.05,.05,.05,.05,
.05,.05,.05,.05,.05,.05,.05,.05,.05,.05,
.05,.05,.05,.05,.05,.05,.05,.1,.1,.2,
1.0,2.3,3.8,5.5,6.0,6.8,6.3,7.2,8.0,7.5,
6.6,6.9,7.5,4.9,4.7,6.2,8.0,8.8,8.8,8.6,
7.1,6.2,6.6,5.0,4.5,3.8,1.2,.2,-.2,.3,
-.5,-1.2,-.6,-.4,-.3,-.3,-.3,-.3,-.3,-.3,
-.3,-.3,-.3,-.2,-.2,-.1,.1,.5,-.4,1.4,
2.6,4.2,3.5,.7,1.5,.8,1.3,3.8,4.2,1.1,
1.8,2.2,3.2,1.2,1.2,-.1,.0,.2,1.5,1.3,
.2];
const h48_SOFTS_hi = [
2.5,2.1,1.4,.4,.3,.35,.45,.4,.4,.4,
.4,.4,.4,.35,.35,.2,.45,.4,.4,.4,
.4,.4,.4,.4,.4,.4,.4,.4,.4,.4,
.4,.45,.4,.4,.4,.4,.4,.35,.35,.3,
.35,.35,.4,.35,.25,.35,.45,.35,.35,.35,
.35,.35,.35,.35,.35,.35,.35,.35,.35,.35,
.35,.35,.35,.35,.35,.35,.35,.35,.35,.35,
.35,.35,.35,.35,.35,.35,.35,.35,.35,.35,
.35,.35,.35,.35,.35,.35,.35,.4,.45,.6,
2.4,4.4,6.6,8.4,8.6,9.4,8.6,9.6,10.5,9.6,
8.5,9.1,9.6,6.8,6.5,8.4,11.8,11.2,10.9,10.7,
9.2,8.2,8.7,7.1,6.6,5.8,3.6,2.4,1.9,2.2,
1.3,.8,.8,.7,.7,.7,.7,.7,.7,.7,
.7,.7,.7,.7,.8,.9,1.1,2.2,1.3,3.4,
5.0,7.5,6.4,3.2,3.2,2.6,3.2,8.6,6.8,3.6,
4.2,4.6,5.8,3.5,3.3,2.0,2.0,2.1,3.6,3.4,
2.1];
const h48_SOFTS_lo = [
1.8,1.4,.8,-.1,-.1,-.05,.15,.15,.15,.15,
.15,.15,.1,.1,.1,-.1,.2,.1,.1,.1,
.1,.1,.1,.1,.1,.1,.1,.1,.1,.1,
.1,.1,.1,.1,.1,.1,.1,.1,.05,.0,
.05,.05,.1,.05,-.1,.05,.2,.05,.05,.05,
.05,.05,.05,.05,.05,.05,.05,.05,.05,.05,
.05,.05,.05,.05,.05,.05,.05,.05,.05,.05,
.05,.05,.05,.05,.05,.05,.05,.05,.05,.05,
.05,.05,.05,.05,.05,.05,.05,.1,.1,.2,
1.0,2.3,3.8,5.6,6.1,6.9,6.2,7.2,8.0,7.4,
6.4,6.8,7.4,4.8,4.6,6.3,8.3,8.8,8.8,8.6,
7.0,6.0,6.5,4.8,4.5,3.8,1.2,.2,-.2,.2,
-.3,-.4,-.4,-.3,-.3,-.3,-.3,-.3,-.3,-.3,
-.3,-.3,-.3,-.2,-.2,-.1,.1,.6,-.4,1.4,
2.6,4.2,3.4,.6,1.5,.7,1.2,3.7,4.1,1.0,
1.8,2.2,3.2,1.2,1.1,-.1,.0,.2,1.5,1.2,
.1];
const h48_TCNMLP_hi = [
2.5,2.1,1.5,.6,.5,.45,.45,.45,.45,.5,
.6,.85,.5,.45,.45,.3,.45,.45,.45,.45,
.45,.5,.9,.9,.9,.85,.8,.4,.6,.6,
.4,.4,.4,.4,.4,.4,.4,.35,.35,.35,
.35,.35,.4,.35,.3,.35,.45,.35,.35,.35,
.35,.35,.35,.35,.35,.35,.35,.35,.35,.35,
.55,.7,.45,.4,.4,.4,.4,.45,.6,.87,
.9,1.0,1.1,.9,.7,.5,.5,.6,.4,.4,
.4,.4,.4,.4,.4,.4,.4,.45,.5,.6,
2.4,4.4,6.4,8.3,8.5,9.4,8.8,9.9,10.4,9.6,
8.5,9.2,9.6,7.0,6.6,8.5,10.8,11.1,10.8,10.7,
9.3,8.1,8.6,7.0,6.6,5.7,3.6,2.5,1.8,2.2,
1.4,1.0,.8,.8,.8,.8,.8,.9,.9,.9,
.8,.8,.8,.8,.9,1.0,1.2,2.2,1.4,3.6,
5.5,8.1,8.1,3.4,3.4,2.8,3.4,8.0,7.2,3.9,
4.3,5.6,6.0,3.7,3.4,2.2,2.1,2.2,4.2,4.2,
2.3];
const h48_TCNMLP_lo = [
1.8,1.3,.5,-.3,-.3,-.05,.1,.1,.1,.05,
-.1,-.4,.0,.1,.1,-.1,.15,.1,.1,.1,
.05,-.1,-.5,-.5,-.5,-.45,-.4,.05,-.15,-.15,
.1,.1,.1,.1,.1,.1,.1,.1,.05,.0,
.05,.05,.1,.05,-.1,.05,.2,.05,.05,.05,
.05,.05,.05,.05,.05,.05,.05,.05,.05,.05,
-.3,-.5,.0,.05,.05,.05,.05,.0,-.2,-.4,
-.45,-.6,-.7,-.5,-.3,-.2,-.3,-.4,-.1,.0,
.05,.05,.05,.05,.05,.05,.05,.1,.1,.2,
1.0,2.3,3.8,5.4,6.0,6.8,6.0,7.0,7.8,7.4,
6.4,6.7,7.3,3.8,3.6,6.1,8.3,8.8,8.8,8.6,
7.0,6.1,6.6,4.8,4.4,3.8,1.2,.3,.0,.4,
-.5,-.4,-.4,-.3,-.3,-.3,-.3,-.4,-.6,-.6,
-.5,-.3,-.3,-.2,-.2,-.1,.1,.6,-.6,1.2,
2.4,4.0,3.4,.5,1.4,.6,1.2,3.6,4.0,.8,
1.6,2.0,3.0,.9,1.0,-.1,-.1,.1,1.3,1.0,
-.1];
const h48_LSTM_hi = [
2.3,1.8,1.2,.5,.4,.5,.6,.6,.6,.6,
.6,.6,.55,.55,.5,.6,.7,1.17,.6,.55,
.5,.5,.5,.45,.4,.35,.3,.35,.4,.4,
.9,1.1,1.1,1.0,1.0,1.0,.85,.85,.8,.8,
.9,.9,.95,1.0,1.0,1.05,1.1,1.05,.95,1.1,
1.13,1.1,1.0,.9,.8,.6,.75,.8,.85,.95,
1.0,.6,.3,.7,.9,.9,.85,.8,.6,.4,
.25,.4,.6,1.2,1.6,1.9,1.2,1.0,1.1,1.4,
1.5,1.55,1.5,1.0,.9,.9,.8,.8,.8,.8,
2.5,4.3,6.4,8.2,8.5,9.4,8.7,10.0,10.4,9.6,
8.6,9.3,9.8,7.0,6.7,8.5,10.9,11.1,10.9,10.6,
9.4,8.3,8.8,7.1,6.8,5.8,3.6,2.4,1.8,2.3,
1.6,1.2,1.2,1.3,1.4,1.5,1.7,1.5,1.3,1.2,
1.2,1.3,1.2,1.1,1.0,1.0,1.5,2.4,2.0,3.8,
5.3,7.4,7.8,3.6,3.6,3.0,3.6,7.6,8.1,4.0,
4.6,5.2,5.9,3.8,3.5,2.4,2.2,2.4,4.0,4.6,
2.6];
const h48_LSTM_lo = [
1.9,1.4,.8,-.3,-.2,-.1,.0,.0,-.05,-.05,
-.05,-.1,-.1,-.1,-.1,-.2,-.05,-.73,-.1,-.1,
-.1,-.1,-.05,.0,.05,.1,.15,.15,.1,.1,
-.35,-.4,-.45,-.45,-.45,-.5,-.55,-.55,-.6,-.6,
-.35,-.4,-.45,-.6,-.75,-.65,-.6,-.6,-.6,-.6,
-.6,-.55,-.45,-.35,-.3,-.4,-.5,-.55,-.6,-.55,
-.5,-.3,.1,-.4,-.55,-.5,-.3,-.1,.0,.1,
.15,.0,-.3,-.9,-1.2,-1.45,-.6,-.6,-.8,-.9,
-1.0,-1.05,-1.05,-.8,-.6,-.5,-.4,-.4,-.4,.0,
1.0,2.3,3.8,5.6,6.1,6.8,6.2,7.1,7.9,7.4,
6.5,6.9,7.5,4.6,4.4,6.2,8.3,8.8,8.8,8.6,
7.1,6.2,6.6,4.8,4.4,3.8,1.2,.4,.2,.5,
-.6,-.8,-.9,-1.0,-1.0,-1.1,-1.2,-1.1,-1.0,-.9,
-.9,-1.0,-1.1,-.8,-.5,-.3,.0,.4,-1.9,1.0,
2.2,3.8,3.2,-.4,1.2,-.4,1.0,3.4,3.8,.6,
1.6,1.9,2.8,.8,.9,-.2,-.1,.0,1.3,.9,
-.2];
const h48_MLP_hi = [
5.0,4.6,4.3,3.25,2.67,2.4,2.85,2.5,2.7,2.67,
3.0,2.6,2.54,2.54,2.46,2.4,2.42,2.8,2.33,2.6,
2.5,2.6,2.84,2.77,2.5,2.28,2.0,1.5,1.9,2.2,
2.5,3.33,2.75,2.75,2.75,3.0,2.5,2.9,2.85,2.85,
2.85,2.95,2.75,2.6,2.5,2.7,2.85,2.9,2.4,2.65,
2.7,2.8,2.95,3.0,3.1,2.9,3.25,3.0,3.1,3.15,
2.6,3.1,2.75,2.6,2.65,2.75,2.9,2.8,2.7,2.75,
3.0,2.5,1.6,2.0,3.9,3.95,2.55,3.45,3.1,3.1,
3.75,3.5,3.5,3.35,3.05,3.25,2.95,2.8,2.85,2.5,
3.5,5.5,7.5,8.9,10.0,10.0,11.5,10.1,11.3,12.1,
11.0,9.9,10.6,11.1,7.4,8.6,10.7,12.4,12.1,12.1,
12.1,9.7,9.3,10.0,7.5,7.6,6.9,3.7,3.1,2.5,
2.9,1.9,1.7,1.5,1.3,2.1,2.9,2.9,2.1,1.5,
1.7,2.1,3.0,.7,1.6,3.6,2.6,4.3,5.0,3.4,
4.5,6.4,8.1,3.9,3.7,1.9,3.6,7.4,7.7,6.8,
4.3,4.7,5.0,6.4,3.3,3.7,1.7,1.9,2.5,4.4,
3.6];
const h48_MLP_lo = [
-.78,-1.3,-2.1,-3.0,-2.5,-2.1,-2.26,-2.07,-2.2,-2.2,
-2.5,-2.2,-2.1,-2.1,-2.2,-2.26,-1.8,-2.33,-1.9,-2.1,
-2.0,-2.1,-2.33,-2.26,-2.0,-1.75,-1.6,-1.04,-1.4,-1.9,
-2.1,-2.7,-2.26,-2.3,-2.33,-2.48,-2.1,-2.33,-2.4,-2.45,
-2.5,-2.45,-2.5,-2.3,-2.3,-2.28,-2.45,-2.1,-2.2,-2.15,
-2.35,-2.4,-2.5,-2.6,-2.4,-2.75,-2.55,-2.7,-2.65,-2.15,
-2.6,-2.3,-2.1,-2.25,-2.3,-2.45,-2.3,-2.2,-2.27,-2.45,
-2.5,-1.9,-1.1,-1.65,-3.35,-3.4,-2.0,-2.9,-2.6,-2.55,
-3.2,-3.0,-3.0,-2.9,-2.5,-2.75,-2.35,-2.3,-2.3,-1.6,
.7,2.7,4.5,5.1,4.3,6.0,3.3,6.7,7.1,5.0,
4.5,6.0,6.6,1.0,5.1,7.1,8.6,7.5,7.9,7.4,
4.3,4.6,6.7,1.9,3.9,3.5,-2.1,-.7,-1.1,.2,
-1.45,-1.0,-.6,-1.2,-1.1,-1.8,-2.4,-2.4,-1.8,-1.2,
-1.5,-2.1,-2.5,-.9,-1.7,-3.0,-1.2,-1.2,-3.9,1.2,
2.4,4.0,4.8,-1.45,.5,.4,1.0,3.4,3.7,-1.85,
2.6,2.0,3.6,-1.3,1.8,-1.8,.2,-.3,1.8,1.9,
-1.0];

// ---------- styling ----------
const fillColors   = ["#f9e3e3", "#e3f9e3", "#e5e5f9", "#e3f8f8", "#f8e3f8", "#f5f5d3"];
const legendFills  = ["#f3d3d3", "#d3f3d3", "#d3d3f3", "#d3f3f3", "#f3d3f3", "#f5f5d2"];
const strokeColors = ["#ff0000", "#3cff3c", "#4848ff", "#48ffff", "#ff48ff", "#ffff30"];
const FONT = '"Liberation Serif","Times New Roman",serif';

const bandsByHorizon = {
  "12": [[h12_FULL_lo,h12_FULL_hi],[h12_CNN_lo,h12_CNN_hi],[h12_SOFTS_lo,h12_SOFTS_hi],[h12_TCNMLP_lo,h12_TCNMLP_hi],[h12_LSTM_lo,h12_LSTM_hi],[h12_MLP_lo,h12_MLP_hi]],
  "24": [[h24_FULL_lo,h24_FULL_hi],[h24_CNN_lo,h24_CNN_hi],[h24_SOFTS_lo,h24_SOFTS_hi],[h24_TCNMLP_lo,h24_TCNMLP_hi],[h24_LSTM_lo,h24_LSTM_hi],[h24_MLP_lo,h24_MLP_hi]],
  "48": [[h48_FULL_lo,h48_FULL_hi],[h48_CNN_lo,h48_CNN_hi],[h48_SOFTS_lo,h48_SOFTS_hi],[h48_TCNMLP_lo,h48_TCNMLP_hi],[h48_LSTM_lo,h48_LSTM_hi],[h48_MLP_lo,h48_MLP_hi]]
};

const steps = d3.range(STEP_FIRST, STEP_LAST + 1);
const actualRows = steps.map((s, i) => ({step: s, v: actual[i]}));

const wrap = document.getElementById("wrap");
const PANEL_TOP = [43, 726, 1409];
const PANEL_H = 683;
const LEGEND_POS = [[374, 115], [369, 793], [379, 1477]];

horizons.forEach((h, idx) => {
  const last = idx === horizons.length - 1;
  const mt = 20, mb = last ? 300 : 20;
  const marks = [];
  const bandRows = bandsByHorizon[h].map(([lo, hi]) =>
    steps.map((s, i) => ({step: s, lo: lo[i], hi: hi[i]})).filter(d => d.lo != null && d.hi != null));
  bandRows.forEach((rows, j) => {
    marks.push(Plot.areaY(rows, {x: "step", y1: "lo", y2: "hi", fill: fillColors[j], fillOpacity: 1}));
  });
  bandRows.forEach((rows, j) => {
    marks.push(Plot.line(rows, {x: "step", y: "hi", stroke: strokeColors[j], strokeWidth: 2.5, strokeOpacity: 0.85}));
    marks.push(Plot.line(rows, {x: "step", y: "lo", stroke: strokeColors[j], strokeWidth: 2.5, strokeOpacity: 0.85}));
  });
  marks.push(Plot.line(actualRows, {x: "step", y: "v", stroke: "#000", strokeWidth: 8}));
  // axes (ticks point inward)
  marks.push(Plot.axisY({ticks: yMajor, tickSize: -37, tickFormat: () => "", strokeWidth: 5, label: null}));
  marks.push(Plot.axisY({ticks: yMinor, tickSize: -18, tickFormat: () => "", strokeWidth: 5, label: null}));
  marks.push(Plot.axisY({ticks: yMajor, tickSize: 0, tickPadding: 43, tickFormat: d => d.toFixed(1), fontSize: 76, label: null}));
  marks.push(Plot.axisX({ticks: xMajor, tickSize: -37, tickFormat: () => "", strokeWidth: 5, label: null}));
  marks.push(Plot.axisX({ticks: xMinor, tickSize: -18, tickFormat: () => "", strokeWidth: 5, label: null}));
  if (last) {
    marks.push(Plot.axisX({ticks: xMajor, tickSize: 0, tickPadding: 50, fontSize: 76, label: null}));
    marks.push(Plot.text(["Time Step"], {frameAnchor: "bottom", dy: 226, fontSize: 96, text: d => d, lineAnchor: "middle", textAnchor: "middle"}));
  }
  marks.push(Plot.text([`Horizon=${h}`], {frameAnchor: "left", dx: -255, rotate: -90, fontSize: 97, text: d => d, lineAnchor: "middle", textAnchor: "middle"}));
  marks.push(Plot.frame({stroke: "#000", strokeWidth: 6}));

  const svg = Plot.plot({
    width: 3128, height: PANEL_H + mt + mb,
    marginLeft: 340, marginRight: 32, marginTop: mt, marginBottom: mb,
    x: {domain: [STEP_FIRST, STEP_LAST], label: null},
    y: {domain: [-5, 15], label: null},
    style: {fontFamily: FONT, background: "transparent", color: "#000", overflow: "visible"},
    marks
  });
  svg.style.top = (PANEL_TOP[idx] - mt) + "px";
  wrap.appendChild(svg);

  // legend
  const lg = document.createElement("div");
  lg.className = "legend";
  lg.style.left = LEGEND_POS[idx][0] + "px";
  lg.style.top = LEGEND_POS[idx][1] + "px";
  const rowsY = [40, 107, 174];
  const colSw = [7, 550, 967], colTx = [142, 684, 1102];
  const entries = [{name: "Wind Power(GW)", line: true}].concat(modelNames.map((n, j) => ({name: n, j})));
  entries.forEach((e, k) => {
    const r = Math.floor(k / 3), c = k % 3;
    if (e.line) {
      const l = document.createElement("div"); l.className = "ln";
      l.style.left = (colSw[c] - 2) + "px"; l.style.top = (rowsY[r] - 8) + "px";
      lg.appendChild(l);
    } else {
      const s = document.createElement("div"); s.className = "sw";
      s.style.left = colSw[c] + "px"; s.style.top = (rowsY[r] - 33) + "px";
      s.style.background = legendFills[e.j]; s.style.borderColor = strokeColors[e.j];
      lg.appendChild(s);
    }
    const t = document.createElement("div"); t.className = "lt";
    t.textContent = e.name;
    t.style.left = colTx[c] + "px"; t.style.top = (rowsY[r] - 29) + "px";
    lg.appendChild(t);
  });
  wrap.appendChild(lg);
});
</script>
</body></html>
